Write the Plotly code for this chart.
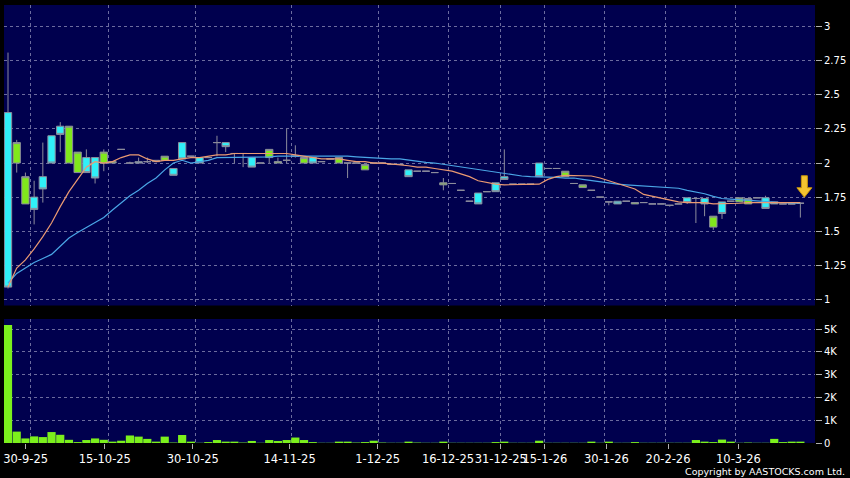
import plotly.graph_objects as go

# ---------------- data ----------------
dates = [
    "2025-09-26", "2025-09-29", "2025-09-30",
    "2025-10-02", "2025-10-03", "2025-10-06", "2025-10-08", "2025-10-09", "2025-10-10",
    "2025-10-13", "2025-10-14", "2025-10-15",
    "2025-10-16", "2025-10-17", "2025-10-20", "2025-10-21", "2025-10-22", "2025-10-23",
    "2025-10-24", "2025-10-27", "2025-10-28", "2025-10-30",
    "2025-10-31", "2025-11-03", "2025-11-04", "2025-11-05", "2025-11-06", "2025-11-07",
    "2025-11-10", "2025-11-11", "2025-11-12", "2025-11-13", "2025-11-14",
    "2025-11-17", "2025-11-18", "2025-11-19", "2025-11-20", "2025-11-21", "2025-11-24",
    "2025-11-25", "2025-11-27", "2025-11-28", "2025-12-01",
    "2025-12-02", "2025-12-03", "2025-12-05", "2025-12-08", "2025-12-10", "2025-12-11",
    "2025-12-15", "2025-12-16",
    "2025-12-17", "2025-12-19", "2025-12-22", "2025-12-24", "2025-12-30", "2025-12-31",
    "2026-01-02", "2026-01-06", "2026-01-08", "2026-01-12", "2026-01-15",
    "2026-01-16", "2026-01-19", "2026-01-21", "2026-01-22", "2026-01-26", "2026-01-28",
    "2026-01-30",
    "2026-02-02", "2026-02-04", "2026-02-05", "2026-02-09", "2026-02-11", "2026-02-13",
    "2026-02-20",
    "2026-02-23", "2026-02-24", "2026-02-26", "2026-03-02", "2026-03-03", "2026-03-05",
    "2026-03-09", "2026-03-10",
    "2026-03-11", "2026-03-12", "2026-03-13", "2026-03-16", "2026-03-17", "2026-03-18",
    "2026-03-19", "2026-03-20",
]

opens = [
    2.37, 2.00, 1.70, 1.75, 1.90, 2.20, 2.27, 2.00, 1.93, 2.04,
    2.04, 2.00, 2.00, 2.10, 2.00, 2.01, 2.01, 2.01, 2.02, 1.96,
    2.15, 2.05, 2.04, 2.04, 2.15, 2.15, 2.07, 2.07, 2.04, 2.00,
    2.04, 2.00, 2.02, 2.05, 2.00, 2.04, 2.01, 2.03, 2.00, 2.00,
    2.00, 1.95, 2.00, 2.00, 1.99, 1.99, 1.95, 1.94, 1.94, 1.93,
    1.84, 1.85, 1.80, 1.72, 1.78, 1.79, 1.855, 1.90, 1.845, 1.845,
    1.845, 2.00, 1.96, 1.96, 1.90, 1.85, 1.82, 1.80, 1.75, 1.715,
    1.72, 1.72, 1.70, 1.71, 1.70, 1.70, 1.69, 1.70, 1.745, 1.74,
    1.74, 1.53, 1.715, 1.72, 1.715, 1.70, 1.745, 1.745, 1.715, 1.70,
    1.70, 1.705,
]
highs = [
    2.81, 2.17, 1.93, 1.87, 2.15, 2.20, 2.30, 2.27, 2.08, 2.10,
    2.04, 2.10, 2.01, 2.10, 2.01, 2.04, 2.04, 2.02, 2.05, 1.96,
    2.15, 2.05, 2.04, 2.04, 2.20, 2.15, 2.07, 2.07, 2.04, 2.00,
    2.10, 2.04, 2.25, 2.13, 2.04, 2.04, 2.01, 2.03, 2.04, 2.00,
    2.00, 1.99, 2.00, 2.00, 1.99, 1.99, 1.95, 1.94, 1.94, 1.93,
    1.89, 1.85, 1.80, 1.72, 1.78, 1.79, 1.855, 2.10, 1.845, 1.845,
    1.845, 2.00, 1.96, 1.96, 1.94, 1.85, 1.84, 1.80, 1.75, 1.715,
    1.72, 1.72, 1.71, 1.71, 1.70, 1.70, 1.69, 1.70, 1.745, 1.74,
    1.74, 1.61, 1.715, 1.72, 1.745, 1.74, 1.745, 1.76, 1.715, 1.70,
    1.70, 1.705,
]
lows = [
    1.08, 1.93, 1.70, 1.55, 1.71, 2.00, 2.08, 2.00, 1.93, 1.93,
    1.85, 1.94, 2.00, 2.10, 2.00, 2.00, 2.00, 2.01, 2.02, 1.91,
    2.03, 2.05, 2.00, 2.04, 2.05, 2.08, 2.00, 1.97, 1.97, 2.00,
    2.00, 2.00, 2.00, 2.04, 2.00, 2.00, 2.01, 2.03, 2.00, 1.89,
    2.00, 1.95, 2.00, 2.00, 1.99, 1.99, 1.90, 1.94, 1.94, 1.93,
    1.80, 1.85, 1.80, 1.72, 1.70, 1.79, 1.79, 1.88, 1.845, 1.845,
    1.845, 1.90, 1.96, 1.96, 1.90, 1.85, 1.82, 1.80, 1.75, 1.69,
    1.70, 1.72, 1.70, 1.71, 1.70, 1.70, 1.68, 1.70, 1.70, 1.56,
    1.61, 1.51, 1.59, 1.72, 1.715, 1.70, 1.745, 1.667, 1.70, 1.70,
    1.70, 1.60,
]
closes = [
    1.09, 2.15, 1.90, 1.66, 1.81, 2.00, 2.21, 2.27, 2.08, 1.93,
    1.89, 2.08, 2.01, 2.10, 2.00, 2.00, 2.01, 2.02, 2.05, 1.91,
    2.03, 2.05, 2.00, 2.04, 2.15, 2.12, 2.07, 2.07, 1.97, 2.00,
    2.10, 2.01, 2.02, 2.05, 2.04, 2.00, 2.01, 2.03, 2.04, 2.00,
    2.00, 1.99, 2.00, 2.00, 1.99, 1.99, 1.90, 1.94, 1.94, 1.93,
    1.855, 1.85, 1.80, 1.72, 1.70, 1.79, 1.79, 1.88, 1.845, 1.845,
    1.845, 1.90, 1.96, 1.96, 1.94, 1.85, 1.84, 1.80, 1.75, 1.715,
    1.70, 1.72, 1.71, 1.71, 1.70, 1.70, 1.69, 1.70, 1.71, 1.74,
    1.70, 1.61, 1.63, 1.72, 1.745, 1.74, 1.745, 1.667, 1.70, 1.70,
    1.70, 1.705,
]
volumes = [
    5180, 500, 200, 290, 260, 480, 360, 140, 40, 130,
    200, 140, 60, 100, 330, 280, 180, 60, 280, 20,
    350, 60, 10, 40, 130, 60, 60, 20, 90, 10,
    130, 90, 130, 240, 130, 40, 10, 10, 60, 60,
    20, 40, 100, 20, 10, 10, 60, 20, 10, 10,
    60, 10, 10, 10, 10, 10, 40, 60, 10, 10,
    10, 100, 10, 10, 10, 10, 10, 60, 10, 60,
    10, 10, 40, 10, 10, 10, 10, 10, 10, 130,
    60, 40, 150, 60, 10, 20, 10, 10, 180, 40,
    60, 60,
]
ma_short = [
    1.09, 1.23, 1.29, 1.37, 1.46, 1.56, 1.68, 1.79, 1.88, 1.97,
    2.01, 2.00, 2.01, 2.04, 2.06, 2.06, 2.03, 2.01, 2.02, 2.02,
    2.03, 2.04, 2.04, 2.05, 2.06, 2.06, 2.07, 2.07, 2.07, 2.07,
    2.07, 2.07, 2.07, 2.06, 2.05, 2.04, 2.03, 2.03, 2.03, 2.02,
    2.01, 2.01, 2.00, 2.00, 1.995, 1.99, 1.98, 1.97, 1.97, 1.96,
    1.95, 1.94, 1.92, 1.90, 1.87, 1.855, 1.845, 1.84, 1.84, 1.84,
    1.845, 1.845, 1.88, 1.90, 1.91, 1.91, 1.91, 1.905, 1.89, 1.87,
    1.855, 1.83, 1.81, 1.77, 1.755, 1.74, 1.725, 1.715, 1.71, 1.71,
    1.71, 1.70, 1.70, 1.70, 1.705, 1.71, 1.71, 1.71, 1.71, 1.71,
    1.71, 1.71,
]
ma_long = [
    1.12, 1.19, 1.23, 1.27, 1.30, 1.33, 1.39, 1.45, 1.49, 1.525,
    1.56, 1.60, 1.655, 1.71, 1.76, 1.80, 1.85, 1.89, 1.95, 2.00,
    2.02, 2.00, 2.01, 2.02, 2.04, 2.04, 2.04, 2.045, 2.045, 2.045,
    2.045, 2.05, 2.05, 2.05, 2.055, 2.055, 2.055, 2.05, 2.05, 2.05,
    2.045, 2.04, 2.04, 2.035, 2.03, 2.03, 2.02, 2.01, 2.005, 2.00,
    1.99, 1.98, 1.97, 1.96, 1.95, 1.94, 1.93, 1.92, 1.91, 1.905,
    1.90, 1.90, 1.90, 1.895, 1.89, 1.89, 1.88, 1.87, 1.86, 1.85,
    1.845, 1.84, 1.835, 1.83, 1.825, 1.82, 1.82, 1.815, 1.80, 1.79,
    1.775, 1.755, 1.74, 1.735, 1.73, 1.725, 1.72, 1.715, 1.71, 1.71,
    1.705, 1.705,
]

tick_dates = ["2025-09-30", "2025-10-15", "2025-10-30", "2025-11-14", "2025-12-01",
              "2025-12-16", "2025-12-31", "2026-01-15", "2026-01-30", "2026-02-20",
              "2026-03-10"]
tick_labels = ["30-9-25", "15-10-25", "30-10-25", "14-11-25", "1-12-25",
               "16-12-25", "31-12-25", "15-1-26", "30-1-26", "20-2-26", "10-3-26"]
price_ticks = [1, 1.25, 1.5, 1.75, 2, 2.25, 2.5, 2.75, 3]
price_tick_text = ["1", "1.25", "1.5", "1.75", "2", "2.25", "2.5", "2.75", "3"]
vol_ticks = [0, 1000, 2000, 3000, 4000, 5000]
vol_tick_text = ["0", "1K", "2K", "3K", "4K", "5K"]

# ---------------- style ----------------
NAVY = "#00004e"
CYAN = "#30f0f8"
GREEN = "#80e81c"
VGREEN = "#7cf01c"
EDGE = "#8c8c9c"
ORANGE = "#eb9a72"
BLUE = "#4aa6e6"
GRID = "#6c6c9e"
FONT = "DejaVu Sans"

tick_idx = [dates.index(d) for d in tick_dates]

MAIN_RANGE = [-0.46, 92.68]       # candle slots
TICK_RANGE = [-0.455, 91.70]      # label scale
GRID_RANGE = [MAIN_RANGE[0] - 0.56, MAIN_RANGE[1] - 0.56]

fig = go.Figure()
fig.add_trace(go.Candlestick(
    x=dates, open=opens, high=highs, low=lows, close=closes,
    increasing=dict(fillcolor=GREEN, line=dict(color=EDGE, width=1)),
    decreasing=dict(fillcolor=CYAN, line=dict(color=EDGE, width=1)),
    whiskerwidth=0, xaxis="x", yaxis="y", showlegend=False, hoverinfo="skip",
))
fig.add_trace(go.Scatter(x=dates, y=ma_long, mode="lines",
                         line=dict(color=BLUE, width=1.2), xaxis="x", yaxis="y",
                         showlegend=False, hoverinfo="skip"))
fig.add_trace(go.Scatter(x=dates, y=ma_short, mode="lines",
                         line=dict(color=ORANGE, width=1.2), xaxis="x", yaxis="y",
                         showlegend=False, hoverinfo="skip"))
fig.add_trace(go.Bar(x=dates, y=volumes, marker=dict(color=VGREEN, line=dict(width=0)),
                     xaxis="x2", yaxis="y2", showlegend=False, hoverinfo="skip"))

# empty carriers so that the label / grid axes get drawn
for xa, ya in (("x3", "y2"), ("x4", "y"), ("x5", "y2")):
    fig.add_trace(go.Scatter(x=tick_idx, y=[None] * len(tick_idx), mode="markers",
                             xaxis=xa, yaxis=ya, showlegend=False, hoverinfo="skip"))

grid_common = dict(showgrid=True, gridcolor=GRID, griddash="3px,3px", gridwidth=1,
                   showticklabels=False, ticks="", zeroline=False, showline=False,
                   automargin=False)

fig.update_layout(
    template="none",
    width=850, height=478,
    margin=dict(l=4, r=35, t=5, b=35, pad=0),
    paper_bgcolor="black", plot_bgcolor=NAVY,
    showlegend=False,
    boxgap=0.16, boxgroupgap=0,
    bargap=0.06,
    font=dict(family=FONT, color="white", size=11),
    xaxis=dict(type="category", domain=[0, 1], anchor="y", range=MAIN_RANGE,
               showticklabels=False, showgrid=False, ticks="", zeroline=False,
               showline=False, automargin=False,
               rangeslider=dict(visible=False), fixedrange=True),
    xaxis2=dict(type="category", domain=[0, 1], anchor="y2", range=MAIN_RANGE,
                showticklabels=False, showgrid=False, ticks="", zeroline=False,
                showline=False, automargin=False),
    xaxis3=dict(overlaying="x2", anchor="y2", type="linear", range=TICK_RANGE,
                tickvals=tick_idx, ticktext=tick_labels, ticks="outside", ticklen=5,
                tickcolor="#b0b0b0", showgrid=False, zeroline=False, showline=False,
                automargin=False, tickangle=0,
                tickfont=dict(family=FONT, size=11.5, color="white")),
    xaxis4=dict(overlaying="x", anchor="y", type="linear", range=GRID_RANGE,
                tickvals=tick_idx, **grid_common),
    xaxis5=dict(overlaying="x2", anchor="y2", type="linear", range=GRID_RANGE,
                tickvals=tick_idx, **grid_common),
    yaxis=dict(domain=[0.3139, 1], anchor="x", side="right", range=[0.955, 3.159],
               tickvals=price_ticks, ticktext=price_tick_text, ticks="outside",
               ticklen=6, tickcolor="#b0b0b0", showgrid=True, gridcolor=GRID,
               griddash="3px,3px", zeroline=False, showline=False, automargin=False,
               tickfont=dict(family=FONT, size=10, color="white")),
    yaxis2=dict(domain=[0, 0.2831], anchor="x2", side="right", range=[0, 5440],
                tickvals=vol_ticks, ticktext=vol_tick_text, ticks="outside",
                ticklen=6, tickcolor="#b0b0b0", showgrid=True, gridcolor=GRID,
                griddash="3px,3px", zeroline=False, showline=False, automargin=False,
                tickfont=dict(family=FONT, size=10, color="white")),
)

# yellow marker arrow above the latest candle
fig.add_shape(
    type="path", xref="x", yref="y",
    xsizemode="pixel", ysizemode="pixel",
    xanchor=dates[-1], yanchor=closes[-1],
    path="M 1,27.5 L 7,27.5 L 7,15.5 L 11.5,15.5 L 4,6 L -3.5,15.5 L 1,15.5 Z",
    fillcolor="#f4c430", line=dict(color="#c8960c", width=1), layer="above",
)

fig.add_annotation(
    text="Copyright by AASTOCKS.com Ltd.", xref="paper", yref="paper",
    x=1, y=0, xanchor="right", yanchor="middle", xshift=32, yshift=-28.5,
    showarrow=False, font=dict(family=FONT, size=9.5, color="white"),
)

fig.write_html(
    "out.html",
    config={"displayModeBar": False, "staticPlot": True},
    post_script="document.body.style.margin='0px';document.body.style.background='black';",
)
